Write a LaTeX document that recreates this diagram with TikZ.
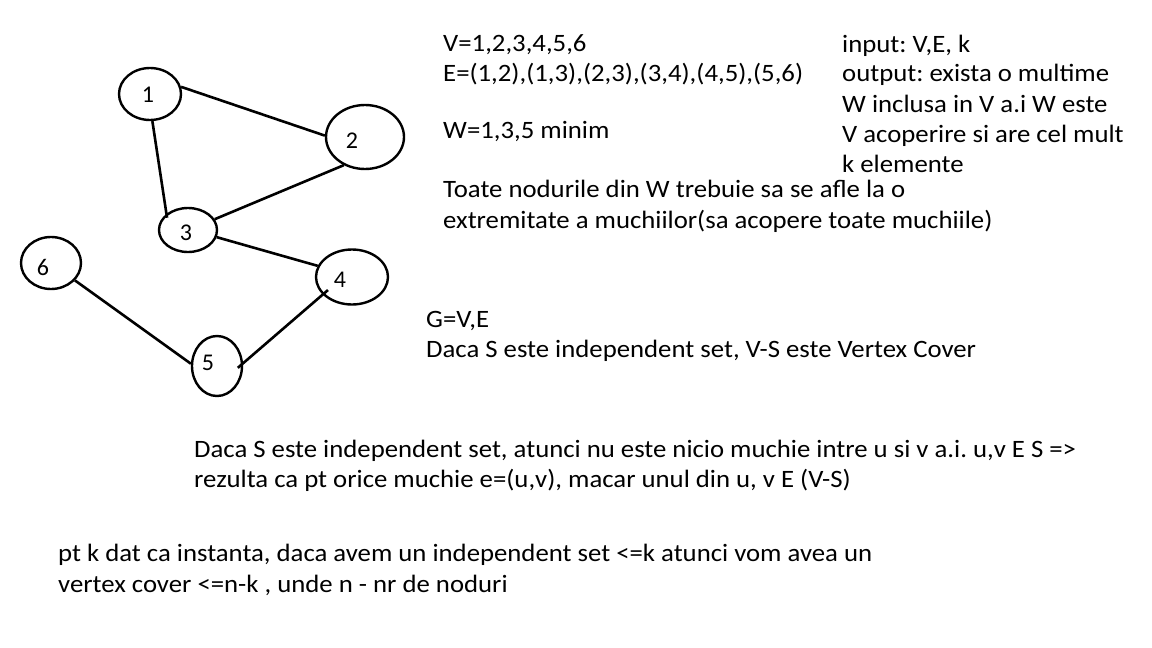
\documentclass[tikz,border=0pt]{standalone}
\usepackage{fontspec}
\setmainfont{Carlito}[FakeStretch=1.07]
\newfontfamily\lblfont{Carlito}
\frenchspacing
\usetikzlibrary{shapes.geometric}
\tikzset{
  vert/.style={draw, ellipse, line width=2.4pt, inner sep=0pt},
  lbl/.style={font=\lblfont\fontsize{24}{30}\selectfont, inner sep=0pt},
  txt/.style={font=\fontsize{25}{30}\selectfont, anchor=base west, inner sep=0pt},
  edge/.style={line width=2.6pt}
}
\begin{document}
\begin{tikzpicture}[x=1pt,y=-1pt]
\useasboundingbox[fill=white] (0,0) rectangle (1152,648);
% vertices
\node[vert, minimum width=62pt, minimum height=52pt] (n1) at (150,94) {};
\node[vert, minimum width=78pt, minimum height=64pt] (n2) at (365,137) {};
\node[vert, minimum width=58pt, minimum height=44pt] (n3) at (188,230) {};
\node[vert, minimum width=72pt, minimum height=55pt] (n4) at (352,277) {};
\node[vert, minimum width=50pt, minimum height=60pt] (n5) at (217,366) {};
\node[vert, minimum width=60pt, minimum height=52pt] (n6) at (51,263) {};
% labels
\node[lbl] (l1) at (148,95) {1};
\node[lbl] (l2) at (352,141) {2};
\node[lbl] (l3) at (186,233) {3};
\node[lbl] (l4) at (340,280) {4};
\node[lbl] (l5) at (208,363) {5};
\node[lbl] (l6) at (43,267) {6};
% edges
\draw[edge] (n1.13) -- (n2.178);
\draw[edge, shorten >=-4pt] (n1.-85) -- (n3.143);
\draw[edge] (n2.-127) -- (n3.22);
\draw[edge] (n3.-14) -- (n4.162);
\draw[edge, shorten <=-7pt, shorten >=-7pt] (n4.-149) -- (n5.6);
\draw[edge] (n6.-36) -- (n5.175);
% texts
\node[txt] (t1) at (443,51) {V=1,2,3,4,5,6};
\node[txt] (t2) at (443,81) {E=(1,2),(1,3),(2,3),(3,4),(4,5),(5,6)};
\node[txt] (t3) at (443,138) {W=1,3,5 minim};
\node[txt] (t4) at (443,197) {Toate nodurile din W trebuie sa se afle la o};
\node[txt] (t5) at (443,228) {extremitate a muchiilor(sa acopere toate muchiile)};
\node[txt] (r1) at (842,52) {input: V,E, k};
\node[txt] (r2) at (842,81) {output: exista o multime};
\node[txt] (r3) at (842,112) {W inclusa in V a.i W este};
\node[txt] (r4) at (842,142) {V acoperire si are cel mult};
\node[txt] (r5) at (842,172) {k elemente};
\node[txt] (g1) at (426,327) {G=V,E};
\node[txt] (g2) at (426,357) {Daca S este independent set, V-S este Vertex Cover};
\node[txt] (d1) at (194,457) {Daca S este independent set, atunci nu este nicio muchie intre u si v a.i. u,v E S =>};
\node[txt] (d2) at (194,487) {rezulta ca pt orice muchie e=(u,v), macar unul din u, v E (V-S)};
\node[txt] (p1) at (58,561) {pt k dat ca instanta, daca avem un independent set <=k atunci vom avea un};
\node[txt] (p2) at (58,592) {vertex cover <=n-k , unde n - nr de noduri};
\end{tikzpicture}
\end{document}
